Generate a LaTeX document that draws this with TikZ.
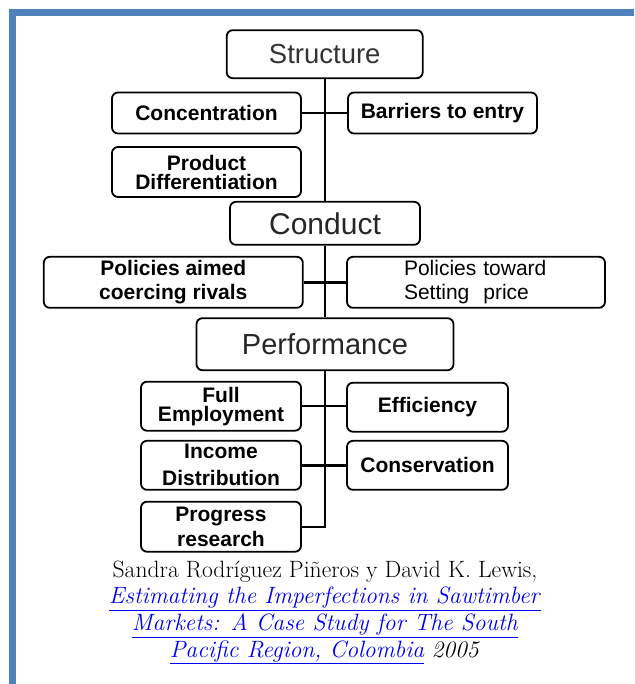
\documentclass[tikz,border=0pt]{standalone}
\usepackage{fontspec}
\usepackage{tikz}
\usetikzlibrary{positioning}
\newfontfamily\boxfont{Liberation Sans}
\definecolor{frameblue}{HTML}{4F81BD}
\definecolor{linkblue}{HTML}{0000EE}
\definecolor{headgray}{HTML}{333333}

\begin{document}
\begin{tikzpicture}[x=1pt, y=-1pt,
  box/.style={draw, rounded corners=6pt, line width=1.8pt, align=center, inner sep=0pt, font=\boxfont\bfseries\fontsize{21}{19}\selectfont},
  head/.style={box, font=\boxfont\fontsize{29}{30}\selectfont, text=headgray},
  link/.style={line width=2.4pt},
  cite/.style={align=center, font=\fontsize{23.6}{26.7}\selectfont}
]
\useasboundingbox (0,0) rectangle (634,684);

% frame
\fill[frameblue] (9,9) rectangle (634,16);
\fill[frameblue] (9,9) rectangle (16,684);

% structure
\node[head, font=\boxfont\fontsize{27.5}{30}\selectfont, minimum width=196pt, minimum height=48pt] (structure) at (324.7, 54.2) {Structure};
\node[box, minimum width=189pt, minimum height=41pt] (conc) at (206.5, 113) {Concentration};
\node[box, minimum width=189pt, minimum height=41pt] (barriers) at (442.5, 113) {Barriers to entry};
\node[box, minimum width=189pt, minimum height=50pt] (proddiff) at (206.5, 172) {Product\\Differentiation};

% conduct
\node[head, text=black!85, font=\boxfont\fontsize{30}{30}\selectfont, minimum width=190pt, minimum height=43pt] (conduct) at (325, 223.3) {Conduct};
\node[box, minimum width=259pt, minimum height=51pt] (aimed) at (173.3, 282.3) {Policies aimed\\[5pt]coercing rivals};
\node[box, font=\boxfont\fontsize{21}{19}\selectfont, align=left, text width=144pt, inner xsep=57pt, minimum height=51pt] (toward) at (476, 282.3) {Policies toward\\[5pt]Setting\ \ price};

% performance
\node[head, text=black!85, minimum width=257pt, minimum height=52pt] (performance) at (325, 344.2) {Performance};
\node[box, minimum width=160pt, minimum height=49pt] (fullemp) at (221, 406.2) {Full\\Employment};
\node[box, minimum width=161pt, minimum height=49pt] (efficiency) at (427.5, 407.2) {Efficiency};
\node[box, minimum width=160pt, minimum height=49pt] (income) at (221, 465.3) {Income\\[8pt]Distribution};
\node[box, minimum width=161pt, minimum height=49pt] (conservation) at (427.5, 465.3) {Conservation};
\node[box, minimum width=160pt, minimum height=50pt] (progress) at (221, 526.7) {Progress\\[4pt]research};
\coordinate (pbot) at (325, 526.7);

% lines
\draw[link] (structure.south) -- (structure.south |- conduct.north);
\draw[link] (conc.east) -- (barriers.west);
\draw[link] (conduct.south) -- (performance.north);
\draw[link] (aimed.east) -- (toward.west);
\draw[link] (performance.south) -- (pbot) -- (progress.east);
\draw[link] (fullemp.east) -- (fullemp.east -| efficiency.west);
\draw[link] (income.east) -- (conservation.west);

% source
\node[cite] (source) at (325, 612.5) {Sandra Rodríguez Piñeros y David K. Lewis,\\
  \textcolor{linkblue}{\underline{\textit{Estimating the Imperfections in Sawtimber}}}\\
  \textcolor{linkblue}{\underline{\textit{Markets: A Case Study for The South}}}\\
  \textcolor{linkblue}{\underline{\textit{Pacific Region, Colombia}}} \textit{\oldstylenums{2005}}};

\end{tikzpicture}
\end{document}
